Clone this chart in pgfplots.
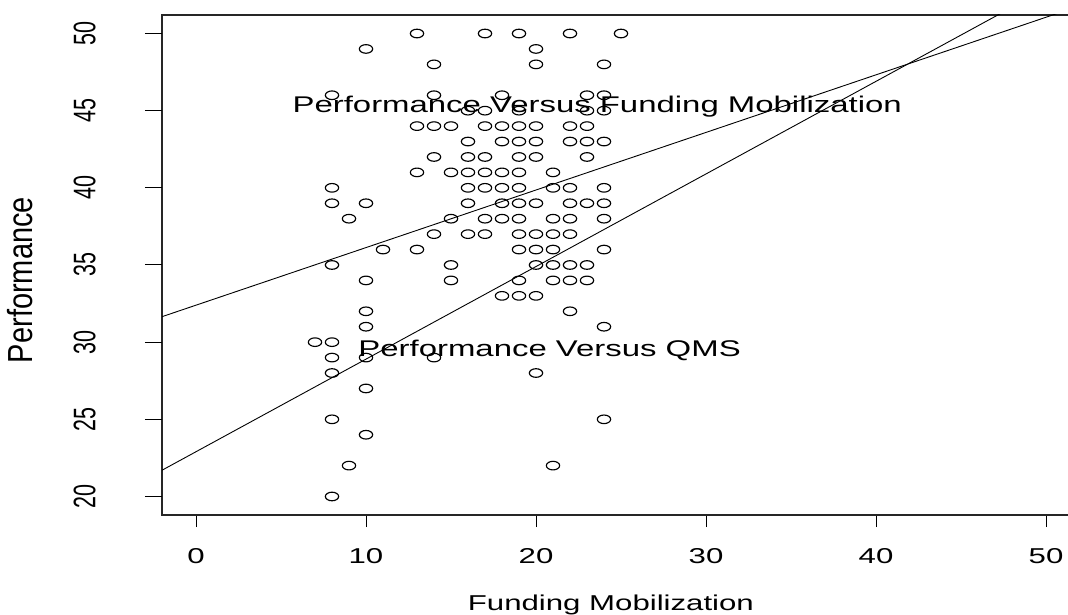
\documentclass[border=0pt]{standalone}
\usepackage{pgfplots}
\pgfplotsset{compat=1.18}
\usepackage{graphicx}
\usepackage{fontspec}
\setmainfont{Liberation Sans}
\newfontfamily\hfont[FakeStretch=1.45]{Liberation Sans}
\newcommand{\vtxt}[1]{\scalebox{1}[1.45]{#1}}
\newcommand{\tfont}{\hfont\fontsize{21.5bp}{22bp}\selectfont}
\newcommand{\pfont}{\hfont\fontsize{22.7bp}{23bp}\selectfont}

\pgfplotstableread{
x y
13 50
17 50
19 50
22 50
25 50
10 49
20 49
14 48
20 48
24 48
8 46
14 46
18 46
23 46
24 46
16 45
17 45
19 45
23 45
24 45
13 44
14 44
15 44
17 44
18 44
19 44
20 44
22 44
23 44
16 43
18 43
19 43
20 43
22 43
23 43
24 43
14 42
16 42
17 42
19 42
20 42
23 42
13 41
15 41
16 41
17 41
18 41
19 41
21 41
8 40
16 40
17 40
18 40
19 40
21 40
22 40
24 40
8 39
10 39
16 39
18 39
19 39
20 39
22 39
23 39
24 39
9 38
15 38
17 38
18 38
19 38
21 38
22 38
24 38
14 37
16 37
17 37
19 37
20 37
21 37
22 37
11 36
13 36
19 36
20 36
21 36
24 36
8 35
15 35
20 35
21 35
22 35
23 35
10 34
15 34
19 34
21 34
22 34
23 34
18 33
19 33
20 33
10 32
22 32
10 31
24 31
7 30
8 30
8 29
10 29
14 29
8 28
20 28
10 27
8 25
24 25
10 24
9 22
21 22
8 20
}\pts

\begin{document}
\begin{tikzpicture}
\begin{axis}[
  at={(162bp,100bp)}, anchor=south west,
  scale only axis, width=918bp, height=500bp,
  xmin=-2, xmax=52, ymin=18.8, ymax=51.2,
  axis line style={line width=1.1bp, black!85},
  tick align=outside, xtick pos=left, ytick pos=left,
  major tick length=12bp,
  tick style={line width=1bp, black},
  xtick={0,10,20,30,40,50},
  xticklabels={0,10,20,30,40,50},
  ytick={20,25,30,35,40,45,50},
  yticklabels={\vtxt{20},\vtxt{25},\vtxt{30},\vtxt{35},\vtxt{40},\vtxt{45},\vtxt{50}},
  extra y ticks={20,25,30,35,40,45,50},
  extra y tick labels={,,,,,,},
  extra y tick style={major tick length=17bp, tick style={line width=1bp, black}},
  xticklabel style={font=\tfont, anchor=north, inner sep=0pt},
  xticklabel shift=21bp,
  yticklabel style={font=\fontsize{21.5bp}{22bp}\selectfont, rotate=90, anchor=south, inner sep=0pt},
  yticklabel shift=54bp,
  xlabel={Funding Mobilization},
  xlabel style={font=\tfont, at={(axis description cs:0.489,-0.19)}, anchor=base, inner sep=0pt},
  ylabel={\scalebox{1}[1.2]{Performance}},
  ylabel style={font=\fontsize{29bp}{29bp}\selectfont, at={(axis description cs:-0.155,0.47)}, anchor=center, inner sep=0pt},
]
\addplot[only marks, mark=o, mark size=4.3bp, mark options={xscale=1.55, line width=1.15bp, black}] table[x=x, y=y] {\pts};
\addplot[no marks, line width=0.9bp, black] coordinates {(-2,31.65) (52,51.80)};
\addplot[no marks, line width=0.9bp, black] coordinates {(-2,21.70) (52,54.10)};
\node[font=\pfont, anchor=base, inner sep=0pt] at (axis cs:23.6,44.91) {Performance Versus Funding Mobilization};
\node[font=\pfont, anchor=base, inner sep=0pt] at (axis cs:20.8,29.1) {Performance Versus QMS};
\end{axis}
\pgfresetboundingbox
\useasboundingbox (0,0) rectangle (1068bp,615bp);
\end{tikzpicture}
\end{document}
